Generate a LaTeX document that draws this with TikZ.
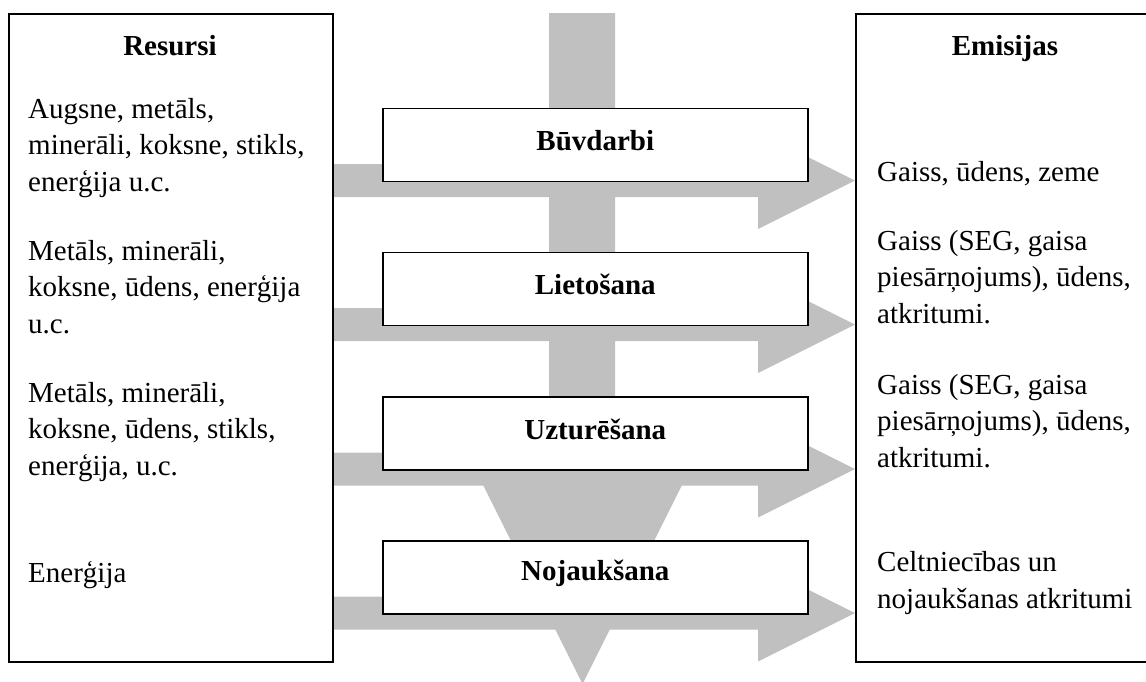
\documentclass[tikz,border=0pt]{standalone}
\usepackage{fontspec}
\setmainfont{Liberation Serif}
\definecolor{bandgray}{RGB}{192,192,192}
\begin{document}
\begin{tikzpicture}[x=1pt,y=-1pt,
  band/.style={fill=bandgray, draw=none},
  panel/.style={draw=black, line width=1.6pt, fill=white, inner sep=0pt, anchor=north west},
  stage/.style={draw=black, line width=1.6pt, fill=white, inner sep=0pt,
    minimum width=425pt, minimum height=73pt, anchor=north west},
  stagetxt/.style={font=\bfseries\fontsize{29}{36.5}\selectfont, inner sep=0pt},
  head/.style={font=\bfseries\fontsize{29}{36.5}\selectfont, inner sep=0pt, anchor=base},
  txt/.style={font=\fontsize{29}{36.5}\selectfont, align=left, anchor=base west, inner sep=0pt}]
\useasboundingbox (0,0) rectangle (1146,681);
\clip (0,0) rectangle (1146,681);
% central down arrow
\fill[bandgray] (549,13) -- (615,13) -- (615,485) -- (682,485) -- (582.5,684)
  -- (483,485) -- (549,485) -- cycle;
% horizontal block arrows
\foreach \c in {180.5,324.5,469,613}{
  \fill[bandgray] (332,\c-16.5) -- (758,\c-16.5) -- (758,\c-48.5) -- (855,\c)
    -- (758,\c+48.5) -- (758,\c+16.5) -- (332,\c+16.5) -- cycle;
}
% side panels
\node[panel, minimum width=324pt, minimum height=648pt] (res) at (8,13) {};
\node[panel, minimum width=300pt, minimum height=648pt] (emi) at (855,13) {};
% stage boxes
\node[stage] (s1) at (382,107.5) {};
\node[stage] (s2) at (382,251.5) {};
\node[stage] (s3) at (382,396) {};
\node[stage] (s4) at (382,540) {};
\node[stagetxt] (t1) at ([yshift=4pt]s1.center) {Būvdarbi};
\node[stagetxt] (t2) at ([yshift=4pt]s2.center) {Lietošana};
\node[stagetxt] (t3) at ([yshift=4pt]s3.center) {Uzturēšana};
\node[stagetxt] (t4) at ([yshift=4pt]s4.center) {Nojaukšana};
% headers
\node[head] (hr) at (170,55) {Resursi};
\node[head] (he) at (1005,55) {Emisijas};
% left texts (anchor = baseline of last line)
\node[txt] (l1) at (28,191) {Augsne, metāls,\\minerāli, koksne, stikls,\\enerģija u.c.};
\node[txt] (l2) at (28,333) {Metāls, minerāli,\\koksne, ūdens, enerģija\\u.c.};
\node[txt] (l3) at (28,475) {Metāls, minerāli,\\koksne, ūdens, stikls,\\enerģija, u.c.};
\node[txt] (l4) at (28,582) {Enerģija};
% right texts
\node[txt] (r1) at (877,181) {Gaiss, ūdens, zeme};
\node[txt] (r2) at (877,323) {Gaiss (SEG, gaisa\\piesārņojums), ūdens,\\atkritumi.};
\node[txt] (r3) at (877,467) {Gaiss (SEG, gaisa\\piesārņojums), ūdens,\\atkritumi.};
\node[txt] (r4) at (877,608) {Celtniecības un\\nojaukšanas atkritumi};
\end{tikzpicture}
\end{document}
